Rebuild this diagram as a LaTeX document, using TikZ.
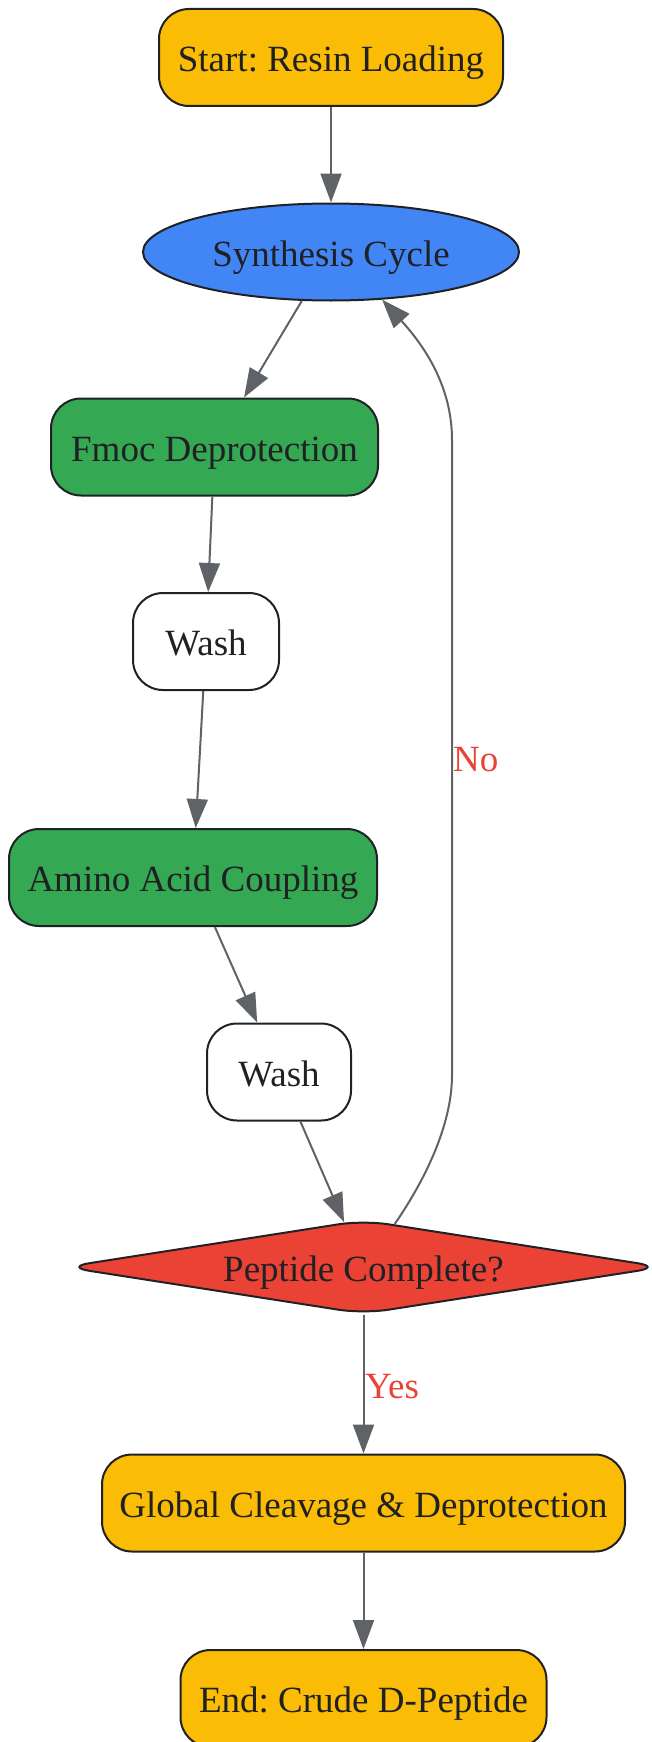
\documentclass[tikz,border=0pt]{standalone}
\usepackage{fontspec}
\setmainfont{Liberation Serif}
\usetikzlibrary{shapes.geometric,arrows.meta}
\definecolor{cyel}{HTML}{FBBC05}
\definecolor{cblue}{HTML}{4285F4}
\definecolor{cgreen}{HTML}{34A853}
\definecolor{cred}{HTML}{EA4335}
\definecolor{cedge}{HTML}{5F6368}
\definecolor{cink}{HTML}{202124}
\frenchspacing
\begin{document}
\begin{tikzpicture}[x=1pt,y=-1pt,
  base/.style={draw=cink, line width=2pt, inner sep=0pt, text=cink,
    font=\fontsize{37}{44}\selectfont\frenchspacing, text height=28pt, text depth=0pt},
  stepbox/.style={base, rectangle, rounded corners=30pt, minimum height=97pt},
  oval/.style={base, ellipse, minimum width=376pt, minimum height=97pt},
  decide/.style={base, diamond, aspect=6.36, rounded corners=25pt, minimum width=598pt, minimum height=94pt},
  conn/.style={draw=cedge, line width=2pt, -{Triangle[length=29pt,width=21pt]}},
  elabel/.style={text=cred, inner sep=0pt, font=\fontsize{37}{44}\selectfont, anchor=west}
]
\useasboundingbox (0,0) rectangle (651,1742);

\node[stepbox, fill=cyel, minimum width=344pt] (start) at (331,57.5) {Start: Resin Loading};
\node[oval, fill=cblue] (cycle) at (331,252) {Synthesis Cycle};
\node[stepbox, fill=cgreen, minimum width=327pt] (fmoc) at (214.5,447) {Fmoc Deprotection};
\node[stepbox, fill=white, minimum width=146pt] (washa) at (206,641.5) {Wash};
\node[stepbox, fill=cgreen, minimum width=368pt] (coup) at (193,877.5) {Amino Acid Coupling};
\node[stepbox, fill=white, minimum width=144pt] (washb) at (279,1072) {Wash};
\node[decide, fill=cred] (dec) at (363.5,1267) {Peptide Complete?};
\node[stepbox, fill=cyel, minimum width=523pt] (glob) at (363.5,1503) {Global Cleavage \& Deprotection};
\node[stepbox, fill=cyel, minimum width=366pt] (fin) at (363.5,1698.5) {End: Crude D-Peptide};

\draw[conn] (start) -- (cycle);
\draw[conn] (cycle) -- (fmoc);
\draw[conn] (fmoc) -- (washa);
\draw[conn] (washa) -- (coup);
\draw[conn] (coup) -- (washb);
\draw[conn] (washb) -- (dec);
\draw[conn] (dec) -- (glob);
\draw[conn] (glob) -- (fin);
\draw[conn] (dec.54) .. controls (425,1180) and (452,1125) .. (452,1075)
  -- (452,440) .. controls (452,390) and (428,350) .. (cycle.-43);

\node[elabel] (yes) at (365,1387) {Yes};
\node[elabel] (no) at (453,760) {No};
\end{tikzpicture}
\end{document}
